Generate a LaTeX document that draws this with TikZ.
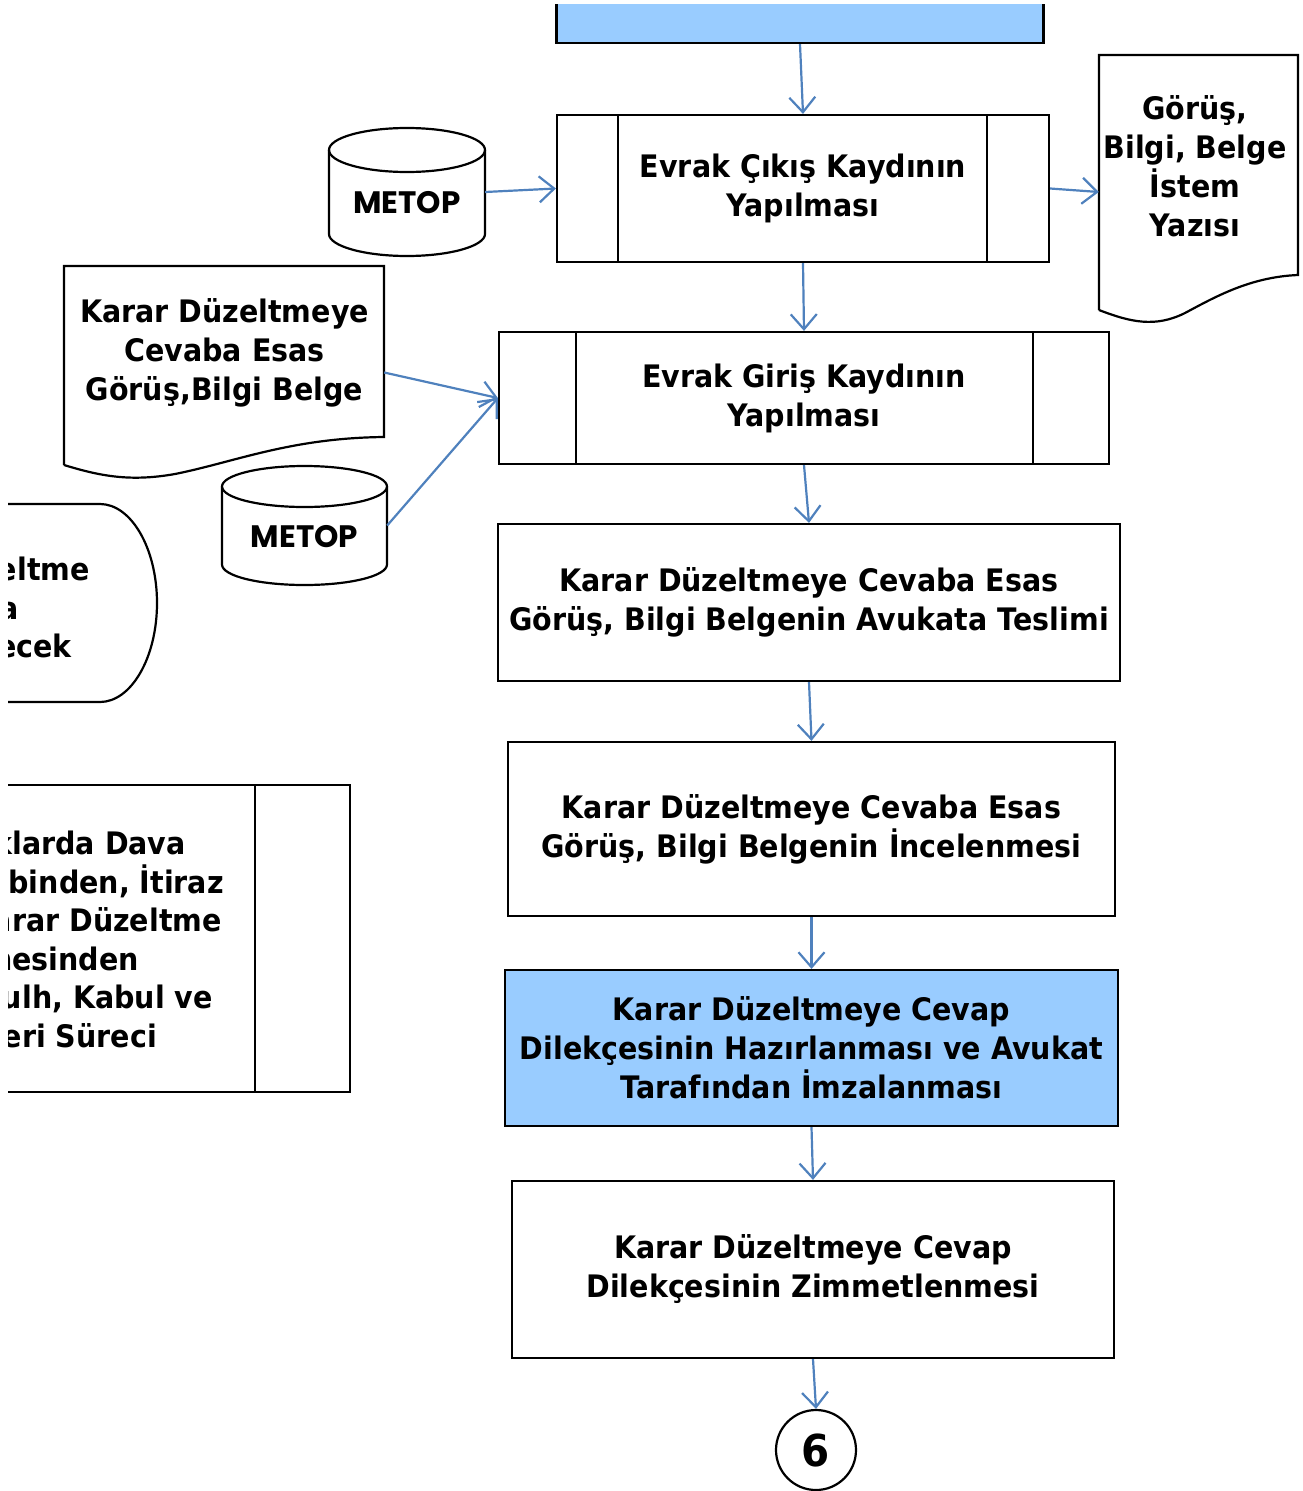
\documentclass[tikz,border=0pt]{standalone}
\usepackage{fontspec}
\setmainfont{DejaVu Sans}[FakeStretch=0.92]
\newfontfamily\metopfont{Poppins}
\usetikzlibrary{arrows.meta,calc}
\definecolor{arrowblue}{RGB}{79,129,189}
\definecolor{boxblue}{RGB}{153,204,255}
\tikzset{
  txt/.style={font=\fontsize{31}{39}\selectfont\bfseries, align=center, inner sep=0pt},
  box/.style={draw=black, line width=2.2pt, txt},
  ghost/.style={draw=none, inner sep=0pt, txt},
  flow/.style={draw=arrowblue, line width=2.2pt, -{Straight Barb[length=15pt,width=26pt]}},
  shapeline/.style={draw=black, line width=2.2pt},
  metop/.style={font=\metopfont\fontsize{31}{33}\selectfont\bfseries, inner sep=0pt},
}
\begin{document}
\begin{tikzpicture}[x=1pt,y=-1pt]
\useasboundingbox (0,0) rectangle (1303,1491);
\begin{scope}
\clip (8,4) rectangle (1303,1491);

% top blue box
\node[box, fill=boxblue, minimum width=487, minimum height=60] (top) at (800,13) {};

% Evrak Cikis
\node[box, minimum width=492, minimum height=147] (b1) at (803,188.5) {Evrak Çıkış Kaydının\\Yapılması};
\draw[shapeline] (618,115) -- (618,262) (987,115) -- (987,262);

% Evrak Giris
\node[box, minimum width=610, minimum height=132] (b2) at (804,398) {Evrak Giriş Kaydının\\Yapılması};
\draw[shapeline] (576,332) -- (576,464) (1033,332) -- (1033,464);

\node[box, minimum width=622, minimum height=157] (b3) at (809,602.5) {Karar Düzeltmeye Cevaba Esas\\Görüş, Bilgi Belgenin Avukata Teslimi};
\node[box, minimum width=607, minimum height=174] (b4) at (811.5,829) {Karar Düzeltmeye Cevaba Esas\\Görüş, Bilgi Belgenin İncelenmesi};
\node[box, fill=boxblue, minimum width=613, minimum height=156] (b5) at (811.5,1048) {Karar Düzeltmeye Cevap\\Dilekçesinin Hazırlanması ve Avukat\\Tarafından İmzalanması};
\node[box, minimum width=602, minimum height=177] (b6) at (813,1269.5) {Karar Düzeltmeye Cevap\\Dilekçesinin Zimmetlenmesi};

\node[draw=black, line width=2.2pt, circle, minimum size=80, inner sep=0pt, font=\fontsize{44}{44}\selectfont\bfseries] (c6) at (816,1450) {6};

% METOP cylinder 1
\node[metop, minimum width=156, minimum height=128] (m1) at (407,192) {};
\draw[shapeline, fill=white] (329,150) -- (329,234) .. controls (329,246) and (364,256) .. (407,256) .. controls (450,256) and (485,246) .. (485,234) -- (485,150);
\draw[shapeline] (407,150) ellipse [x radius=78, y radius=22];
\node[metop] (m1t) at (407,203) {METOP};

% METOP cylinder 2
\node[metop, minimum width=165, minimum height=119] (m2) at (304.5,525.5) {};
\draw[shapeline, fill=white] (222,486.5) -- (222,564.5) .. controls (222,576) and (259,585) .. (304.5,585) .. controls (350,585) and (387,576) .. (387,564.5) -- (387,486.5);
\draw[shapeline] (304.5,486.5) ellipse [x radius=82.5, y radius=20.5];
\node[metop] (m2t) at (304.5,537) {METOP};

% Document: Gorus Bilgi Belge Istem Yazisi
\node[ghost, minimum width=199, minimum height=220] (g) at (1198.5,165) {};
\draw[shapeline] (1099,310) -- (1099,55) -- (1298,55) -- (1298,275)
  .. controls (1250,277) and (1215,297) .. (1185,313)
  .. controls (1155,328) and (1130,322) .. (1099,310);
\node[txt] (gt) at (1195,166) {Görüş,\\Bilgi, Belge\\İstem\\Yazısı};

% Document: Karar Duzeltmeye Cevaba Esas
\node[ghost, minimum width=320, minimum height=171] (k) at (224,351.5) {};
\draw[shapeline] (64,465) -- (64,266) -- (384,266) -- (384,437)
  .. controls (290,438) and (235,462) .. (175,474)
  .. controls (130,482) and (100,476) .. (64,465);
\node[txt] (kt) at (224.5,353) {Karar Düzeltmeye\\Cevaba Esas\\Görüş,Bilgi Belge};

% Left terminator (cut off)
\draw[shapeline] (0,504) -- (100,504) .. controls (131,504) and (157,548) .. (157,603)
  .. controls (157,658) and (131,702) .. (100,702) -- (0,702);
\node[txt, anchor=base east] (t1) at (90,580) {eltme};
\node[txt, anchor=base east] (t2) at (19,619) {a};
\node[txt, anchor=base east] (t3) at (72,657) {ecek};

% Left process box (cut off)
\draw[shapeline] (0,785) -- (350,785) -- (350,1092) -- (0,1092);
\draw[shapeline] (255,785) -- (255,1092);
\node[txt, anchor=base east] (p1) at (186,854) {klarda Dava};
\node[txt, anchor=base east] (p2) at (224,893) {binden, İtiraz};
\node[txt, anchor=base east] (p3) at (222,931) {arar Düzeltme};
\node[txt, anchor=base east] (p4) at (139,970) {nesinden};
\node[txt, anchor=base east] (p5) at (213,1008) {ulh, Kabul ve};
\node[txt, anchor=base east] (p6) at (157,1047) {eri Süreci};

% connectors
\draw[flow] (top.south) -- (b1.north);
\draw[flow] (m1.east) -- (b1.west);
\draw[flow] (b1.east) -- ([yshift=-27pt]g.west);
\draw[flow] (b1.south) -- (b2.north);
\draw[flow] ([yshift=-21pt]k.east) -- (b2.west);
\draw[flow] (m2.east) -- (b2.west);
\draw[flow] (b2.south) -- (b3.north);
\draw[flow] (b3.south) -- (b4.north);
\draw[flow] (b4.south) -- (b5.north);
\draw[flow] (b5.south) -- (b6.north);
\draw[flow] (b6.south) -- (c6.north);
\end{scope}
\end{tikzpicture}
\end{document}
